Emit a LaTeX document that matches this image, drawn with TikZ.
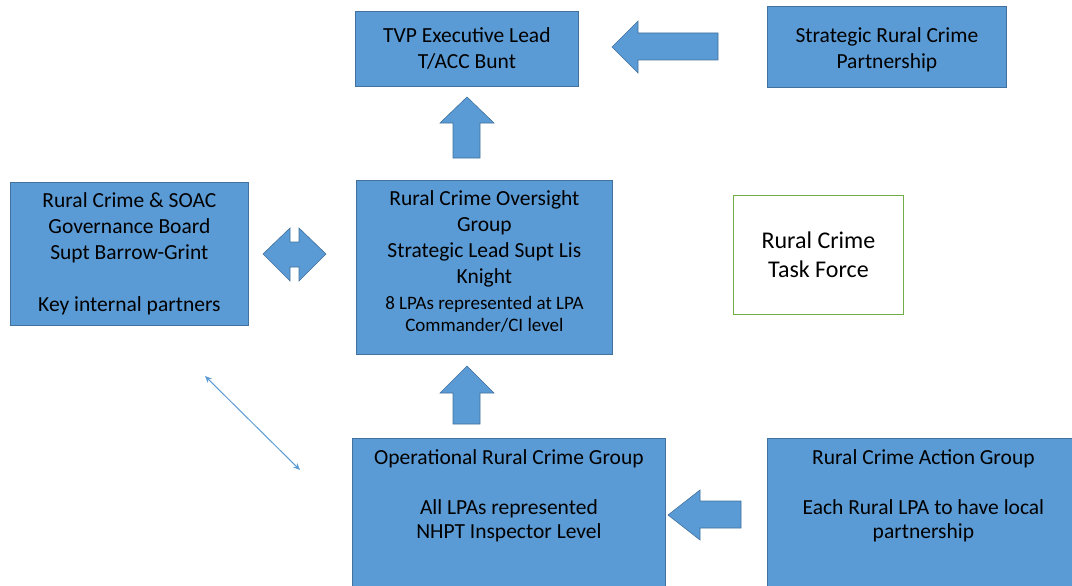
\documentclass[tikz,border=0pt]{standalone}
\usepackage{fontspec}
\setmainfont{Carlito}
\usetikzlibrary{arrows.meta}
\definecolor{boxblue}{HTML}{5B9BD5}
\definecolor{boxline}{HTML}{41719C}
\definecolor{tfgreen}{HTML}{70AD47}
\begin{document}
\begin{tikzpicture}[x=1pt,y=-1pt,
  bluebox/.style={draw=boxline, fill=boxblue, line width=0.8pt, inner sep=0pt, anchor=north west, align=center, font=\fontsize{21.5}{26}\selectfont},
  greenbox/.style={draw=tfgreen, fill=white, line width=0.9pt, inner sep=0pt, anchor=north west, align=center, font=\fontsize{24}{29}\selectfont},
  label/.style={inner sep=0pt, align=center, font=\fontsize{21.5}{26}\selectfont},
  blockarrow/.style={draw=boxline, fill=boxblue, line width=0.6pt},
  thinarrow/.style={draw=boxblue, line width=1pt, {Stealth[length=7pt,width=6pt]}-{Stealth[length=7pt,width=6pt]}}]
\useasboundingbox (0,0) rectangle (1072,586);
% boxes
\node[bluebox, minimum width=223pt, minimum height=75pt] (tvp) at (355,11) {TVP Executive Lead\\T/ACC Bunt};
\node[bluebox, minimum width=239pt, minimum height=81pt] (srcp) at (767,6) {};
\node[label] (srcpt) at ([yshift=-3]srcp.center) {Strategic Rural Crime\\Partnership};
\node[bluebox, minimum width=238pt, minimum height=143pt] (gov) at (10,182) {Rural Crime \& SOAC\\Governance Board\\Supt Barrow-Grint\\[26pt]Key internal partners};
\node[bluebox, minimum width=256pt, minimum height=174pt] (rcog) at (356,180) {};
\node[label] (rcogt) at ([yshift=6]rcog.center) {Rural Crime Oversight\\Group\\Strategic Lead Supt Lis\\Knight\\{\fontsize{19}{22}\selectfont 8 LPAs represented at LPA}\\[-4pt]{\fontsize{19}{22}\selectfont Commander/CI level}};
\node[greenbox, minimum width=170pt, minimum height=119pt] (tf) at (733,195) {Rural Crime\\Task Force};
\node[bluebox, minimum width=313pt, minimum height=160pt] (orcg) at (352,438) {};
\node[label, anchor=north] (orcgt) at ([yshift=-11]orcg.north) {Operational Rural Crime Group\\[24pt]All LPAs represented\\[-2pt]NHPT Inspector Level};
\node[bluebox, minimum width=320pt, minimum height=160pt] (rcag) at (767,438) {};
\node[label, anchor=north] (rcagt) at ([xshift=-4,yshift=-11]rcag.north) {Rural Crime Action Group\\[24pt]Each Rural LPA to have local\\[-2pt]partnership};
% block arrows
\draw[blockarrow] (612,47) -- (638,21) -- (638,33) -- (718,33) -- (718,60) -- (638,60) -- (638,73) -- cycle;
\draw[blockarrow] (467,97) -- (494,123) -- (480,123) -- (480,158) -- (453,158) -- (453,123) -- (440,123) -- cycle;
\draw[blockarrow] (467,366) -- (494,393) -- (480,393) -- (480,424) -- (453,424) -- (453,393) -- (440,393) -- cycle;
\draw[blockarrow] (668,515) -- (700,490) -- (700,501) -- (741,501) -- (741,528) -- (700,528) -- (700,540) -- cycle;
\draw[blockarrow] (263,254) -- (290,228) -- (290,242) -- (299,242) -- (299,228) -- (326,254) -- (299,281) -- (299,267) -- (290,267) -- (290,281) -- cycle;
% thin double arrow
\coordinate (da1) at (205,376);
\coordinate (da2) at (300,470);
\draw[thinarrow] (da1) -- (da2);
\end{tikzpicture}
\end{document}
